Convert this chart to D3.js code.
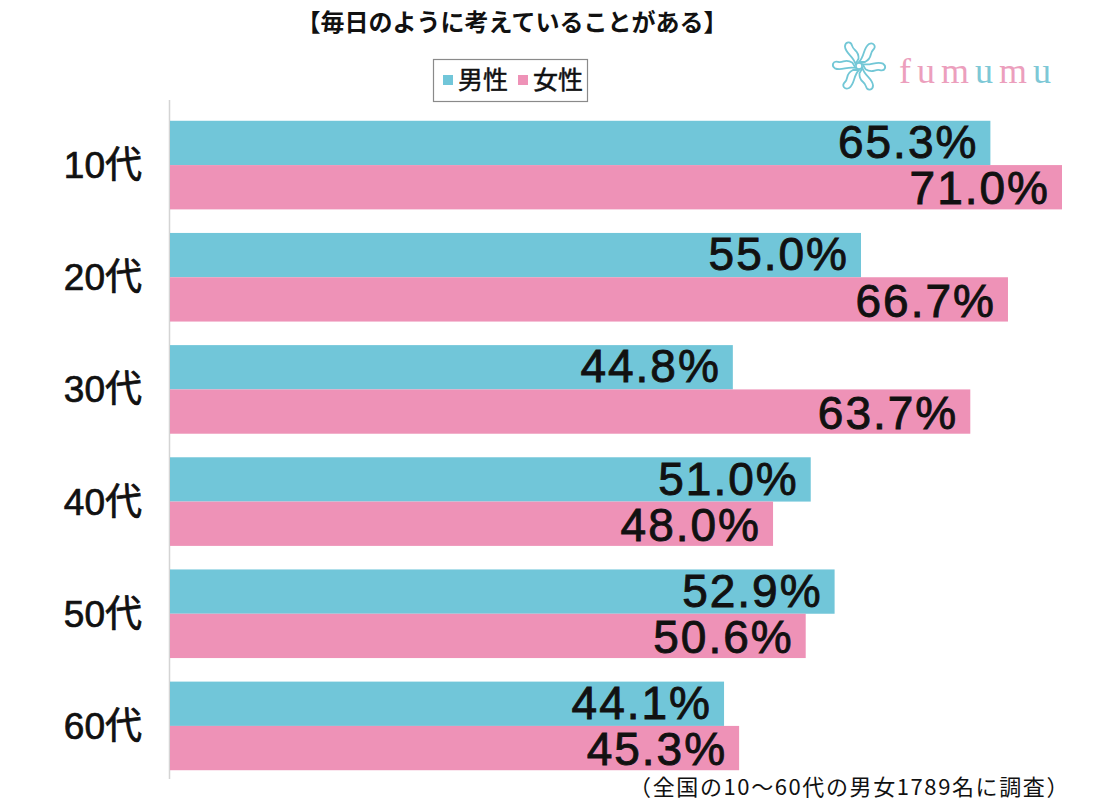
<!DOCTYPE html>
<html>
<head>
<meta charset="utf-8">
<script src="https://cdn.jsdelivr.net/npm/d3@7"></script>
<style>
  html, body { margin: 0; padding: 0; background: #fff; }
  svg { display: block; }
</style>
</head>
<body>
<svg id="chart" width="1102" height="800"></svg>
<script>
const categories = ["10代", "20代", "30代", "40代", "50代", "60代"];
const maleValues = [65.3, 55.0, 44.8, 51.0, 52.9, 44.1];
const femaleValues = [71.0, 66.7, 63.7, 48.0, 50.6, 45.3];
const seriesNames = ["男性", "女性"];
const seriesColors = ["#71C6D9", "#EE92B7"];
const titleText = "【毎日のように考えていることがある】";
const noteText = "（全国の10〜60代の男女1789名に調査）";

const svg = d3.select("#chart");
const numFont = "'Liberation Sans', 'Noto Sans CJK JP', sans-serif";
const jpFont = "'Noto Sans CJK JP', 'Liberation Sans', sans-serif";

const x = d3.scaleLinear().domain([0, 71.0]).range([170, 1062]);
const y = d3.scaleBand().domain(categories).range([109, 782]).paddingInner(0.21).paddingOuter(0.105);
const ySub = d3.scaleBand().domain(seriesNames).range([0, y.bandwidth()]);

// axis line
svg.append("line")
  .attr("x1", 169.5).attr("x2", 169.5)
  .attr("y1", 100).attr("y2", 779)
  .attr("stroke", "#d4d4d4").attr("stroke-width", 1.5);

const rows = categories.map((c, i) => ({cat: c, vals: [maleValues[i], femaleValues[i]]}));

const g = svg.append("g").selectAll("g.row").data(rows).join("g")
  .attr("class", "row")
  .attr("transform", d => `translate(0,${y(d.cat)})`);

g.selectAll("rect").data(d => d.vals.map((v, j) => ({v, s: seriesNames[j], j}))).join("rect")
  .attr("x", x(0))
  .attr("y", d => ySub(d.s))
  .attr("width", d => x(d.v) - x(0))
  .attr("height", ySub.bandwidth())
  .attr("fill", d => seriesColors[d.j]);

g.selectAll("text.val").data(d => d.vals.map((v, j) => ({v, s: seriesNames[j], j}))).join("text")
  .attr("class", "val")
  .attr("x", d => x(d.v) - 12)
  .attr("y", d => ySub(d.s) + ySub.bandwidth() - (d.j === 0 ? 7 : 5))
  .attr("text-anchor", "end")
  .attr("font-family", numFont)
  .attr("font-size", 46)
  .attr("letter-spacing", 2)
  .attr("fill", "#111")
  .attr("stroke", "#111").attr("stroke-width", 0.9)
  .text(d => d.v.toFixed(1) + "%");

// category labels
svg.append("g").selectAll("text").data(categories).join("text")
  .attr("x", 142)
  .attr("y", d => y(d) + y.bandwidth() / 2 + 13)
  .attr("text-anchor", "end")
  .attr("font-family", numFont)
  .attr("font-size", 37)
  .attr("fill", "#111")
  .attr("stroke", "#111").attr("stroke-width", 0.7)
  .text(d => d);

// title
svg.append("text")
  .attr("x", 512).attr("y", 31)
  .attr("text-anchor", "middle")
  .attr("font-family", jpFont)
  .attr("font-weight", "bold")
  .attr("font-size", 24)
  .attr("fill", "#111")
  .text(titleText);

// legend
const lg = svg.append("g");
lg.append("rect").attr("x", 433.5).attr("y", 59.5).attr("width", 154).attr("height", 42)
  .attr("fill", "#fff").attr("stroke", "#8a8a8a").attr("stroke-width", 1.2);
const legX = [443, 518];
seriesNames.forEach((n, i) => {
  lg.append("rect").attr("x", legX[i]).attr("y", 75).attr("width", 10).attr("height", 10).attr("fill", seriesColors[i]);
  lg.append("text").attr("x", legX[i] + 15).attr("y", 89)
    .attr("font-family", jpFont).attr("font-size", 25).attr("fill", "#111")
    .attr("stroke", "#111").attr("stroke-width", 0.5).text(n);
});

// logo
const logo = svg.append("g").attr("transform", "translate(859,66)");
d3.range(6).forEach(k => {
  logo.append("path")
    .attr("d", "M0,-4 C6,-10 4,-18 10,-22 C14,-24 18,-20 14,-16 C10,-12 14,-8 6,-4 Z")
    .attr("transform", `rotate(${k * 60})`)
    .attr("fill", "none").attr("stroke", "#72c7d6").attr("stroke-width", 1.8);
});
logo.append("circle").attr("r", 3).attr("fill", "none").attr("stroke", "#72c7d6").attr("stroke-width", 1.5);

const lt = svg.append("text").attr("x", 899).attr("y", 83)
  .attr("font-family", "'Liberation Serif', 'DejaVu Serif', serif")
  .attr("font-size", 36).attr("letter-spacing", 6);
const logoLetters = [["f", "#ec9fbd"], ["u", "#ec9fbd"], ["m", "#ec9fbd"], ["u", "#7ec8d6"], ["m", "#ec9fbd"], ["u", "#7ec8d6"]];
logoLetters.forEach(([ch, col]) => lt.append("tspan").attr("fill", col).text(ch));

// note
svg.append("text")
  .attr("x", 1070).attr("y", 795)
  .attr("text-anchor", "end")
  .attr("font-family", jpFont)
  .attr("font-size", 22)
  .attr("letter-spacing", 1.6)
  .attr("fill", "#111")
  .text(noteText);
</script>
</body>
</html>
